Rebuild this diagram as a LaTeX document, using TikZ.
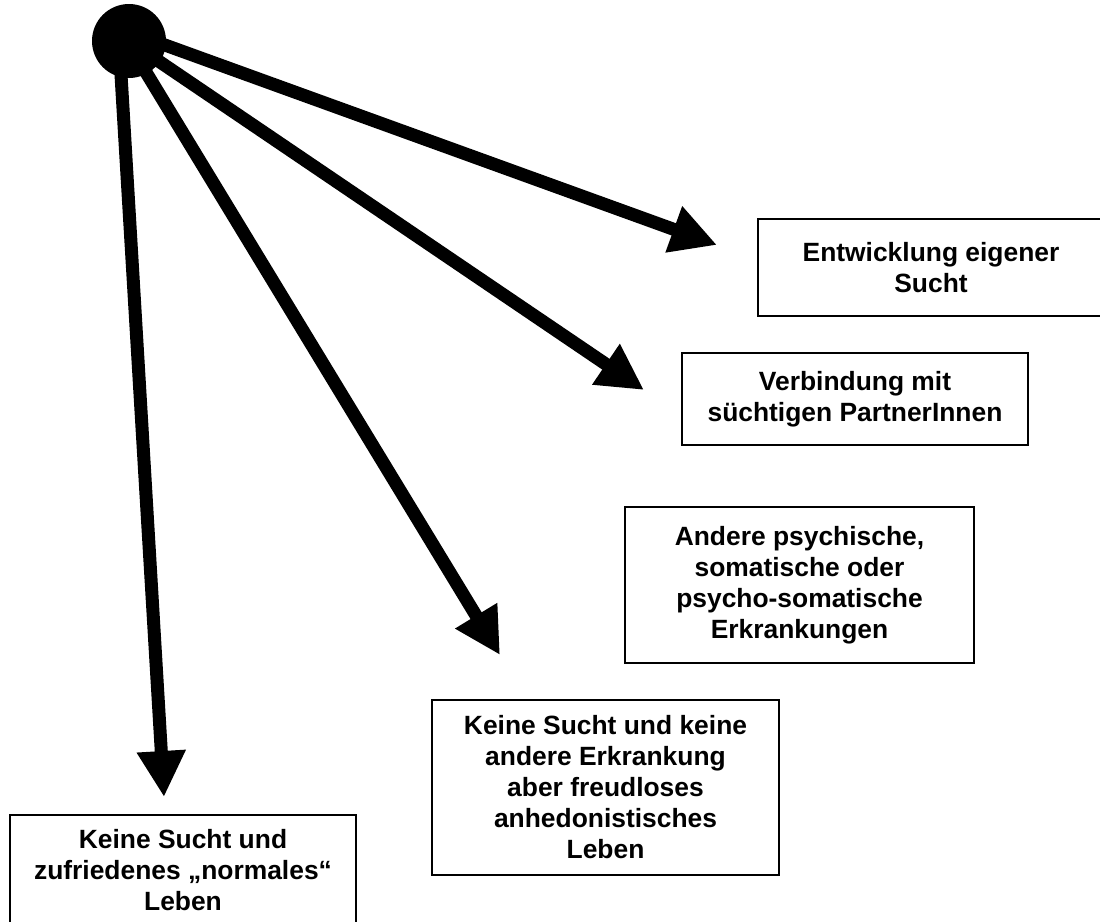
\documentclass[tikz,border=0pt]{standalone}
\usepackage{fontspec}
\setmainfont{Liberation Sans}
\usetikzlibrary{arrows.meta}
\begin{document}
\begin{tikzpicture}[x=1pt,y=-1pt,
  box/.style={draw, line width=1.5pt, align=center, inner sep=0pt,
    font=\bfseries\fontsize{26.4}{31}\selectfont},
  arr/.style={line width=13pt, -{Triangle[length=46pt,width=46pt]}}]
\useasboundingbox (0,0) rectangle (1100,921);
\clip (0,0) rectangle (1100,921);
\fill[white] (0,0) rectangle (1100,921);
% source
\node[circle, fill=black, minimum size=74pt, inner sep=0pt] (src) at (129,41) {};
% boxes
\node[box, minimum width=346pt, minimum height=97pt] (b1) at (931,267.5) {Entwicklung eigener\\Sucht};
\node[box, minimum width=346pt, minimum height=92pt] (b2) at (855,399) {Verbindung mit\\süchtigen PartnerInnen};
\node[box, minimum width=349pt, minimum height=156pt] (b3) at (799.5,585) {Andere psychische,\\somatische oder\\psycho-somatische\\Erkrankungen};
\node[box, minimum width=347pt, minimum height=175pt] (b4) at (605.5,787.5) {Keine Sucht und keine\\andere Erkrankung\\aber freudloses\\anhedonistisches\\Leben};
\node[box, minimum width=346pt, minimum height=110pt] (b5) at (183,870) {Keine Sucht und\\zufriedenes „normales“\\Leben};
% arrow ends
\coordinate (s1) at (129,32);
\coordinate (t1) at (717,245);
\coordinate (s2) at (129,41);
\coordinate (t2) at (644,390);
\coordinate (s3) at (127,41);
\coordinate (t3) at (500,655);
\coordinate (s4) at (119,41);
\coordinate (t4) at (164,797);
\draw[arr] (s1) -- (t1);
\draw[arr] (s2) -- (t2);
\draw[arr] (s3) -- (t3);
\draw[arr] (s4) -- (t4);
\end{tikzpicture}
\end{document}
